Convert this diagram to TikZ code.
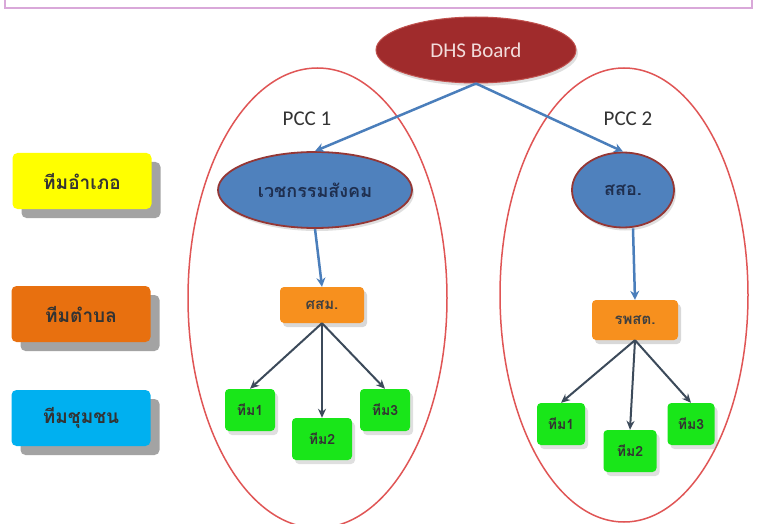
\documentclass[tikz,border=0pt]{standalone}
\usepackage{fontspec}
\setmainfont{Carlito}
\newfontfamily\thaifont[Script=Thai]{Loma}
\usetikzlibrary{shapes.geometric,arrows.meta,shadows}
\definecolor{dhsred}{HTML}{A02B2C}
\definecolor{dhsline}{HTML}{C0504D}
\definecolor{pinkt}{HTML}{F2DCDB}
\definecolor{blueF}{HTML}{4F81BD}
\definecolor{maroon}{HTML}{953735}
\definecolor{orangeF}{HTML}{F7901E}
\definecolor{orangeL}{HTML}{E8700F}
\definecolor{greenF}{HTML}{19E619}
\definecolor{yellowF}{HTML}{FFFF00}
\definecolor{cyanF}{HTML}{00B0F0}
\definecolor{ringred}{HTML}{E05555}
\definecolor{arrblue}{HTML}{4A7EBB}
\definecolor{arrdark}{HTML}{3C4A5A}
\definecolor{framepink}{HTML}{D9A8D9}
\definecolor{navy}{HTML}{1F2F4F}
\tikzset{
  ring/.style={ellipse, draw=ringred, line width=1.5pt, inner sep=0pt},
  blueell/.style={ellipse, draw=maroon, line width=1.8pt, fill=blueF, inner sep=0pt,
     drop shadow={opacity=0.25, shadow xshift=2pt, shadow yshift=-3pt},
     font=\thaifont\bfseries\fontsize{18}{20}\selectfont, text=navy},
  orbox/.style={rectangle, rounded corners=4pt, fill=orangeF, inner sep=0pt,
     drop shadow={opacity=0.3, shadow xshift=3pt, shadow yshift=-4pt},
     font=\thaifont\bfseries\fontsize{15}{17}\selectfont, text=black!75},
  grbox/.style={rectangle, rounded corners=4pt, fill=greenF, inner sep=0pt,
     minimum width=50pt, minimum height=42pt,
     drop shadow={opacity=0.25, shadow xshift=3pt, shadow yshift=-4pt},
     font=\thaifont\bfseries\fontsize{14}{16}\selectfont, text=black!80},
  legbox/.style={rectangle, rounded corners=5pt, inner sep=0pt,
     minimum width=139pt, minimum height=56pt,
     drop shadow={fill=black!45, opacity=0.8, shadow xshift=9pt, shadow yshift=-9pt},
     font=\thaifont\bfseries\fontsize{19}{21}\selectfont, text=black!80},
  bluearr/.style={draw=arrblue, line width=2.5pt, -{Stealth[length=9pt,width=9pt]}},
  darkarr/.style={draw=arrdark, line width=2pt, -{Stealth[length=9pt,width=8pt]}},
  pcc/.style={font=\fontsize{21}{23}\selectfont, text=black!80}
}
\begin{document}
\begin{tikzpicture}[x=1pt,y=-1pt]
\useasboundingbox (0,0) rectangle (758,524);
\fill[white] (0,0) rectangle (758,524);
% top frame remnant
\draw[framepink, line width=2pt] (5,-5) -- (5,8) -- (752,8) -- (752,-5);
% big rings
\node[ring, minimum width=259pt, minimum height=460pt] (ringL) at (317.5,298) {};
\node[ring, minimum width=248pt, minimum height=454pt] (ringR) at (624,295) {};
% DHS Board
\node[ellipse, fill=dhsred, draw=dhsline, line width=1pt, minimum width=200pt, minimum height=66pt,
  inner sep=0pt, drop shadow={opacity=0.25, shadow xshift=2pt, shadow yshift=-3pt},
  text=pinkt, font=\fontsize{21}{23}\selectfont] (dhs) at (476,50) {DHS Board};
% PCC labels
\node[pcc] (pcc1) at (307,119) {PCC 1};
\node[pcc] (pcc2) at (628,119) {PCC 2};
% blue ellipses
\node[blueell, minimum width=194pt, minimum height=76pt] (vk) at (315,190) {เวชกรรมสังคม};
\node[blueell, minimum width=102pt, minimum height=75pt] (sso) at (623,190) {สสอ.};
% orange boxes
\node[orbox, minimum width=84pt, minimum height=36pt] (ssm) at (322,305) {ศสม.};
\node[orbox, minimum width=86pt, minimum height=40pt] (rps) at (635,320) {รพสต.};
% green boxes left
\node[grbox] (l1) at (250,410) {ทีม1};
\node[grbox, minimum width=60pt] (l2) at (322,439) {ทีม2};
\node[grbox] (l3) at (385,410) {ทีม3};
% green boxes right
\node[grbox, minimum width=48pt] (r1) at (561,424) {ทีม1};
\node[grbox, minimum width=53pt] (r2) at (630,451) {ทีม2};
\node[grbox, minimum width=47pt] (r3) at (691,424) {ทีม3};
% legend
\node[legbox, fill=yellowF] (lg1) at (82,181) {ทีมอำเภอ};
\node[legbox, fill=orangeL] (lg2) at (81,314) {ทีมตำบล};
\node[legbox, fill=cyanF] (lg3) at (81,418) {ทีมชุมชน};
% arrows
\draw[bluearr] (dhs.south) -- (vk.north);
\draw[bluearr] (dhs.south) -- (sso.north);
\draw[bluearr] (vk.south) -- (ssm.north);
\draw[bluearr] ([xshift=10pt]sso.south) -- (rps.north);
\draw[darkarr] (ssm.south) -- (l1.north);
\draw[darkarr] (ssm.south) -- (l2.north);
\draw[darkarr] (ssm.south) -- (l3.north);
\draw[darkarr] (rps.south) -- (r1.north);
\draw[darkarr] (rps.south) -- (r2.north);
\draw[darkarr] (rps.south) -- (r3.north);
\end{tikzpicture}
\end{document}
